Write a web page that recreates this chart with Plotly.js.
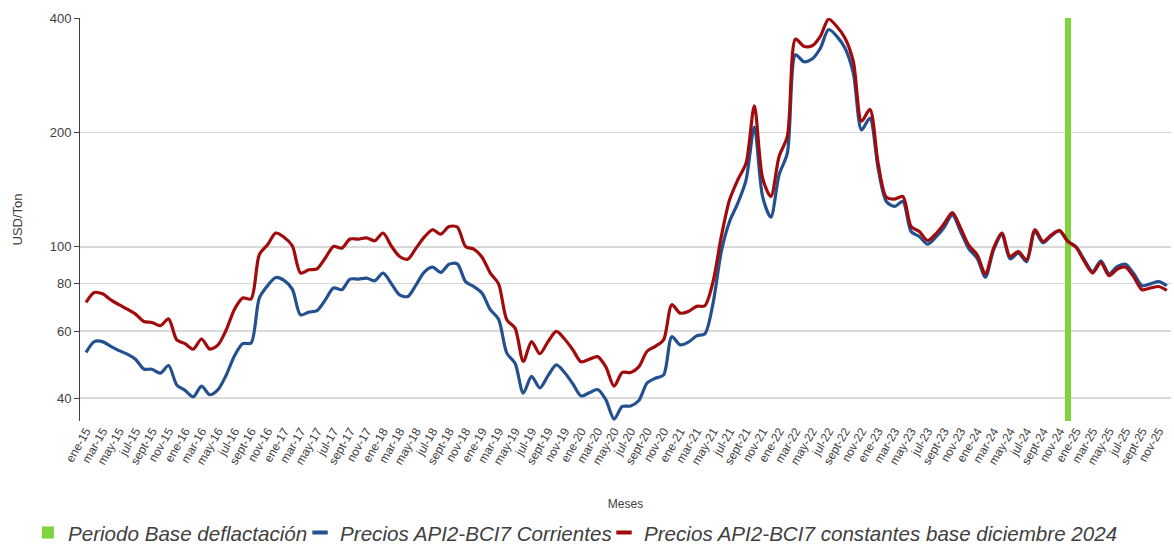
<!DOCTYPE html>
<html><head><meta charset="utf-8">
<script src="https://cdn.plot.ly/plotly-3.0.1.min.js"></script>
<style>html,body{margin:0;padding:0;background:#fff;overflow:hidden}#chart{width:1174px;height:546px}</style>
</head><body><div id="chart"></div>
<script>
// Month abbreviations (Spanish) and years used for the category labels
const monthNames = ['ene','feb','mar','abr','may','jun','jul','ago','sept','oct','nov','dic'];
const yearLabels = ['15','16','17','18','19','20','21','22','23','24','25'];

// Precios API2-BCI7 Corrientes (USD/Ton), ene-15 .. dic-25
const corrientes = [
 52.7,56.3,56.3,54.7,53.3,52.2,50.6,47.7,47.6,46.5,48.7,43.3,
 41.9,40.3,43.0,40.8,42.1,46.0,51.7,55.6,55.8,73.3,79.0,83.0,
 81.6,77.4,66.2,67.3,67.9,72.5,77.9,77.1,82.2,82.2,82.7,81.4,
 85.3,80.0,74.7,74.0,79.4,85.8,88.4,85.6,90.0,90.2,81.0,78.6,
 75.5,68.3,64.5,52.5,49.4,41.2,45.6,42.5,45.8,48.9,46.7,43.6,
 40.5,41.3,42.1,39.6,35.2,38.0,38.1,39.4,43.8,45.1,46.0,58.0,
 55.2,56.1,58.3,59.0,71.1,97.2,116.6,130.3,150.1,206.6,135.6,119.7,
 154.7,176.4,320,307,312,333,373,358,333,286,203,218,
 161,131.6,127.7,131.6,109.7,106.4,101.6,106.0,112.4,121.4,109.7,98.8,
 93.4,83.2,98.2,107.5,93.0,96.2,91.4,109.6,102.4,106.9,110.0,103.3,
 100.0,92.4,86.1,91.9,84.9,88.8,90.0,84.9,79.0,79.9,81.0,79.0
];

// Precios API2-BCI7 constantes base diciembre 2024 (USD/Ton)
const constantes = [
 71.4,75.8,75.2,72.5,70.4,68.5,66.5,63.6,63.2,62.0,64.6,56.9,
 55.6,53.8,57.2,53.8,55.2,60.5,68.5,73.3,72.9,95.3,101.2,108.7,
 106.0,100.6,85.3,87.0,87.5,93.4,100.2,99.2,104.8,104.8,105.6,103.7,
 108.7,100.5,94.3,92.8,99.2,106.0,110.9,108.0,113.1,112.7,100.2,98.6,
 93.9,85.3,79.9,64.3,61.1,49.9,56.3,52.3,56.3,59.9,57.2,53.6,
 49.8,50.6,51.4,48.3,43.0,46.7,46.7,48.3,53.1,54.7,56.9,70.4,
 66.9,67.6,69.7,70.0,81.0,106.5,132.9,150.1,166.1,234.9,151.6,135.6,
 172.9,195.2,352,337,338,358,397,380,354,307,214,230,
 166,135.1,133.5,135.6,113.1,109.7,103.9,108.2,115.0,123.1,112.0,100.8,
 95.3,84.9,99.2,108.7,94.3,97.2,92.4,110.9,103.3,107.5,110.4,103.3,
 99.6,91.5,85.3,90.9,83.9,87.4,88.4,83.2,77.1,77.9,78.6,76.8
];

// Base period for deflation (vertical marker)
const basePeriod = ['dic-24'];
const baseValue = [400];

// Y axis ticks
const yTicks = [40, 60, 80, 100, 200, 400];

// Series names
const nameBase = 'Periodo Base deflactación';
const nameCorr = 'Precios API2-BCI7 Corrientes';
const nameConst = 'Precios API2-BCI7 constantes base diciembre 2024';

const cGreen = '#7ed43a', cBlue = '#24508f', cRed = '#a10b0b';

// Category labels
const meses = [];
yearLabels.forEach(y => monthNames.forEach(m => meses.push(m + '-' + y)));
const tickLabels = meses.filter((_, i) => i % 2 === 0);

const traces = [
  {type:'bar', x: basePeriod, y: baseValue, width: 0.65, name: nameBase,
   marker:{color: cGreen, line:{width:0}}, legend:'legend'},
  {type:'scatter', mode:'lines', x: meses, y: corrientes, name: nameCorr, showlegend:false,
   line:{color: cBlue, width:3.2, shape:'spline', smoothing:0.8}},
  {type:'scatter', mode:'lines', x: meses, y: constantes, name: nameConst, showlegend:false,
   line:{color: cRed, width:3.2, shape:'spline', smoothing:0.8}},
  // legend-only entries with short dash symbols
  {type:'scatter', mode:'markers', x:[null], y:[null], name: nameCorr, legend:'legend2',
   marker:{symbol:'line-ew', size:11, line:{width:4, color: cBlue}}},
  {type:'scatter', mode:'markers', x:[null], y:[null], name: nameConst, legend:'legend3',
   marker:{symbol:'line-ew', size:11, line:{width:4, color: cRed}}}
];

const legFont = {size:20.6, color:'#404040', family:'Liberation Sans, Arial, sans-serif', style:'italic'};
const legBase = {orientation:'h', xanchor:'left', yref:'container', y:0.0245, yanchor:'middle',
  font: legFont, itemwidth:30, bgcolor:'rgba(0,0,0,0)'};

const layout = {
  width:1174, height:546,
  margin:{l:80, r:3, t:18, b:125},
  paper_bgcolor:'#ffffff', plot_bgcolor:'#ffffff',
  font:{family:'Liberation Sans, Arial, sans-serif', color:'#404040'},
  showlegend:true,
  legend: Object.assign({}, legBase, {x:-0.0477}),
  legend2: Object.assign({}, legBase, {x:0.2017}),
  legend3: Object.assign({}, legBase, {x:0.4803}),
  xaxis:{type:'category', categoryorder:'array', categoryarray: meses,
    range:[-0.73, 131.5], tickvals: tickLabels, ticktext: tickLabels,
    tickangle:-60, tickfont:{size:12, color:'#404040'}, showgrid:false, showline:false,
    ticks:'', zeroline:false,
    title:{text:'Meses', font:{size:12, color:'#404040'}, standoff:33}},
  yaxis:{type:'log', range:[Math.log10(34.8), Math.log10(400)], tickvals: yTicks,
    ticktext: yTicks.map(String), tickfont:{size:13, color:'#404040'},
    showgrid:true, gridcolor:'#d9d9d9', gridwidth:1.5, showline:true, linecolor:'#404040',
    linewidth:1, ticks:'outside', ticklen:5, tickcolor:'#404040', zeroline:false,
    title:{text:'USD/Ton', font:{size:13, color:'#404040'}, standoff:24}},
  bargap:0
};

Plotly.newPlot('chart', traces, layout, {displayModeBar:false, staticPlot:true});
</script>
</body></html>
